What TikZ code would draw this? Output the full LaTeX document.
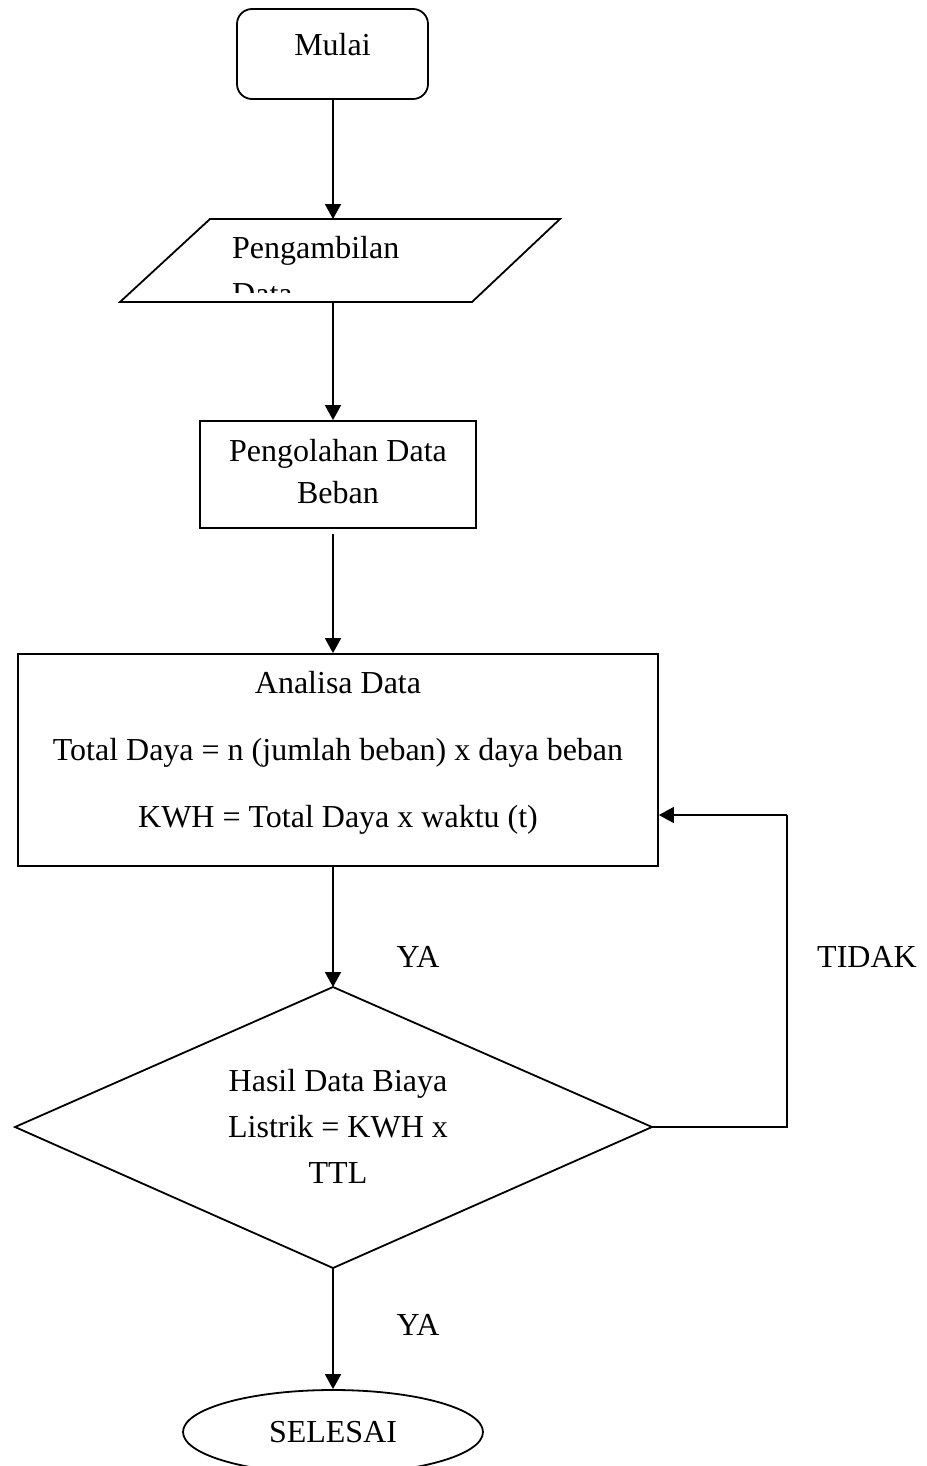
\documentclass[tikz,border=0pt]{standalone}
\usepackage{fontspec}
\setmainfont{Liberation Serif}
\usetikzlibrary{arrows.meta,shapes.geometric}
\begin{document}
\begin{tikzpicture}[x=1pt,y=-1pt,
  every node/.style={font=\fontsize{32}{46}\selectfont, inner sep=0pt},
  ln/.style={line width=1.8pt},
  arr/.style={ln,-{Triangle[length=15pt,width=16pt]}}]
\useasboundingbox (0,0) rectangle (926,1466);
% Mulai
\node (mulai) [draw, ln, rounded corners=15pt, minimum width=191pt, minimum height=90pt] at (332.5,54) {};
\node (mulaiT) at (332.5,45) {Mulai};
% parallelogram (input)
\draw[ln] (210,219) -- (560,219) -- (472,302) -- (120,302) -- cycle;
\coordinate (inT) at (333,219);
\coordinate (inB) at (333,302);
\node (inT1) [anchor=base west] at (232,258) {Pengambilan};
\begin{scope}
  \clip (200,270) rectangle (400,292);
  \node (inT2) [anchor=base west] at (232,304) {Data};
\end{scope}
% Pengolahan
\node (olah) [draw, ln, minimum width=276pt, minimum height=107pt] at (338,474.5) {};
\node (olahT) [align=center, font=\fontsize{32}{42}\selectfont] at (338,472) {Pengolahan Data\\Beban};
% Analisa
\node (anal) [draw, ln, minimum width=640pt, minimum height=212pt] at (338,760) {};
\node (analT) [align=center, font=\fontsize{32}{67}\selectfont] at (338,753) {Analisa Data\\Total Daya = n (jumlah beban) x daya beban\\KWH = Total Daya x waktu (t)};
% Diamond
\coordinate (dT) at (333,987);
\coordinate (dR) at (652,1127);
\coordinate (dB) at (333,1268);
\coordinate (dL) at (15,1127);
\draw[ln] (dT) -- (dR) -- (dB) -- (dL) -- cycle;
\node (dText) [align=center] at (338,1126) {Hasil Data Biaya\\Listrik = KWH x\\TTL};
% Selesai
\node (sel) [draw, ln, ellipse, minimum width=300pt, minimum height=84pt] at (333,1432) {};
\node (selT) at (333,1432) {SELESAI};
% connectors
\draw[arr] (mulai.south -| inT) -- (inT);
\draw[arr] (inB) -- (olah.north -| inB);
\draw[arr] ([yshift=-5pt]olah.south -| inB) -- (anal.north -| inB);
\draw[arr] (anal.south -| inB) -- (dT);
\draw[arr] (dB) -- (sel.north);
\coordinate (fb1) at (787,1127);
\coordinate (fb2) at (787,815);
\draw[ln] (dR) -- (fb1) -- (fb2);
\draw[arr] (fb2) -- (fb2 -| anal.east);
% labels
\node (ya1) at (418,957) {YA};
\node (tidak) at (867,957) {TIDAK};
\node (ya2) at (418,1325) {YA};
\end{tikzpicture}
\end{document}
